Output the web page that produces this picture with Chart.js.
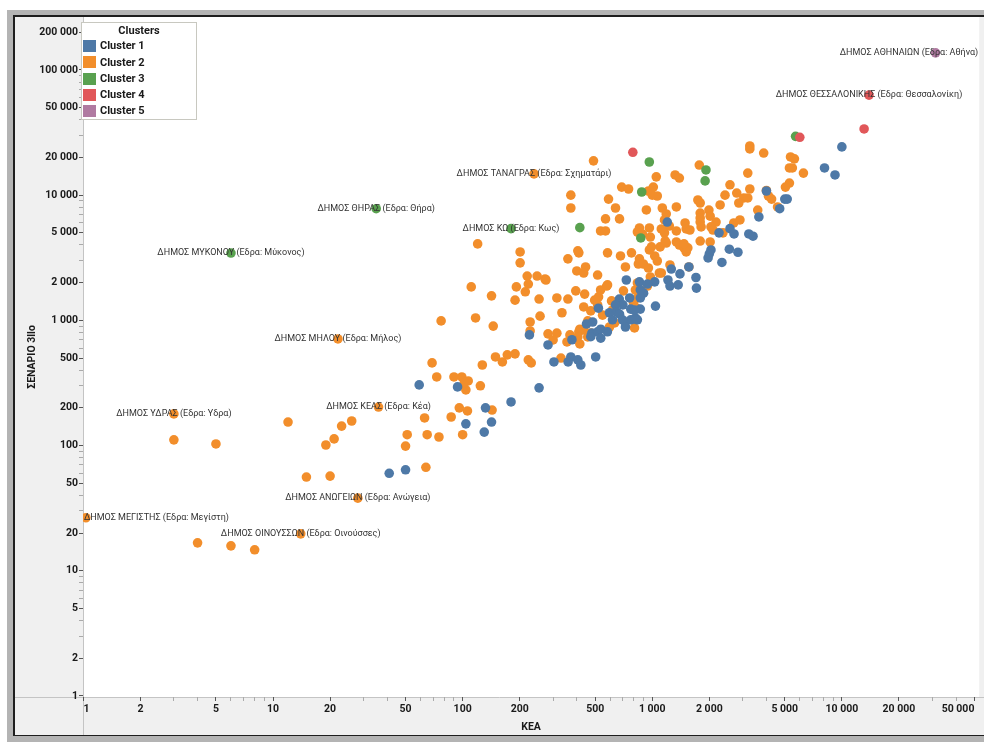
<!DOCTYPE html>
<html>
<head>
<meta charset="utf-8">
<script src="https://cdn.jsdelivr.net/npm/chart.js@4.4.1/dist/chart.umd.min.js"></script>
<style>
  html, body { margin: 0; padding: 0; background: #fff; }
  #wrap { width: 984px; height: 742px; }
</style>
</head>
<body>
<div id="wrap"><canvas id="clusterChart" width="984" height="742"></canvas></div>
<script>
// [KEA, ΣΕΝΑΡΙΟ 3llo] per municipality, labelled ones first
var cluster1 = [
  [10000, 24300], [8100, 16500], [9200, 14500], [4000, 10800], [5000, 9300], [5150, 9300], [4700, 7800],
  [3650, 6700], [1200, 6100], [2570, 5400], [2700, 4900], [2250, 5000], [3230, 4900], [3400, 4700],
  [2040, 3650], [2000, 3400], [1970, 3150], [2550, 3700], [2830, 3500], [2330, 2900], [1260, 2570],
  [1400, 2350], [1560, 2670], [1700, 2200], [1210, 2100], [1240, 1880], [1370, 1920], [1710, 1810],
  [1030, 2030], [856, 2030], [900, 1650], [865, 1510], [1040, 1300], [865, 1230], [835, 1010],
  [730, 2100], [670, 1480], [700, 1330], [640, 1330], [770, 1230], [520, 1250], [595, 1150],
  [650, 1170], [672, 1120], [617, 1010], [720, 970], [770, 1010], [450, 935], [485, 970], [480, 790],
  [515, 810], [535, 850], [580, 810], [225, 765], [282, 636], [377, 700], [372, 510], [405, 483],
  [420, 440], [360, 465], [303, 465], [503, 510], [535, 720], [474, 740], [697, 1010], [722, 885],
  [815, 1045], [806, 1210], [760, 1510], [865, 1750], [943, 1950], [59, 305], [94, 294], [253, 289],
  [180, 223], [132, 200], [104, 149], [142, 154], [130, 128], [41, 60], [50, 64]
];
var cluster2 = [
  [238, 14800], [22, 710], [36, 203], [3, 179], [28, 38], [1.03, 26.5], [14, 19.7],
  [3270, 24700], [3270, 23400], [3870, 21700], [1770, 17400], [5360, 20200], [5620, 19500], [5290, 16500],
  [5480, 16500], [6270, 15000], [3190, 15000], [1320, 14500], [1390, 13700], [1050, 14000], [2570, 12100],
  [5290, 12500], [5040, 11600], [2420, 10000], [2790, 10400], [3270, 11200], [4000, 10900], [4100, 9850],
  [4260, 9300], [3040, 9500], [3190, 9500], [2860, 8660], [1740, 9150], [1790, 8660], [2280, 8350],
  [1130, 7900], [1340, 8050], [4580, 8050], [3600, 7600], [1185, 7080], [1790, 7200], [1790, 6570],
  [1790, 6100], [1990, 7600], [2020, 6800], [1160, 6340], [1230, 5670], [1490, 6000], [1510, 5370],
  [1580, 5270], [2170, 6100], [2690, 6000], [2900, 6340], [1810, 5580], [2040, 5580], [2090, 5270],
  [2360, 5000], [1160, 5000], [1790, 4300], [2020, 4230], [1340, 4230], [1390, 4000], [1470, 3790],
  [1510, 3520], [1540, 3790], [1185, 4150], [1100, 3860], [1240, 2770], [1560, 2670], [1116, 2390],
  [490, 18800], [690, 11600], [750, 11200], [954, 10800], [1013, 11600], [1063, 9850], [372, 10000],
  [372, 7900], [588, 9300], [640, 7900], [931, 7620], [567, 6460], [672, 6460], [534, 5180], [567, 5180],
  [856, 5470], [887, 4900], [835, 5080], [1116, 5370], [1340, 5180], [120, 4080], [1170, 4310],
  [1470, 4080], [201, 3520], [201, 2880], [405, 3590], [410, 3460], [359, 3100], [581, 3460], [680, 3270],
  [777, 3460], [856, 3100], [845, 2820], [898, 2820], [954, 2620], [1030, 3270], [1063, 2980], [966, 3650],
  [990, 3860], [722, 2670], [445, 2670], [400, 2480], [435, 2390], [515, 2300], [219, 2260], [247, 2260],
  [272, 2140], [977, 2220], [1090, 2390], [835, 1990], [943, 1880], [111, 1850], [192, 1850], [222, 1950],
  [214, 1690], [575, 1880], [705, 1720], [142, 1570], [253, 1480], [189, 1450], [314, 1510], [359, 1480],
  [395, 1720], [440, 1620], [497, 1450], [521, 1540], [610, 1430], [796, 1380], [825, 1256], [435, 1280],
  [334, 1150], [474, 1190], [547, 1100], [806, 870], [77, 990], [145, 900], [282, 780], [314, 790],
  [435, 840], [415, 850], [368, 765], [457, 737], [1000, 10000], [966, 5470], [977, 4630], [117, 1045],
  [227, 970], [227, 823], [256, 1080], [275, 2100], [534, 1750], [581, 1920], [300, 697], [355, 672],
  [410, 808], [405, 737], [415, 648], [457, 990], [515, 1330], [330, 500], [474, 793], [595, 885],
  [633, 953], [617, 1210], [835, 1510], [815, 1750], [149, 510], [162, 465], [172, 530], [189, 540],
  [127, 440], [222, 483], [230, 457], [69, 457], [73, 353], [90, 353], [99, 353], [107, 328], [104, 278],
  [102, 317], [124, 300], [96, 200], [106, 189], [87, 169], [63, 166], [143, 192], [51, 122], [65, 122],
  [75, 117], [100, 122], [50, 99], [12, 154], [26, 157], [23, 143], [21, 113], [19, 101], [64, 67],
  [15, 56], [20, 57], [3, 111], [5, 103], [4, 16.7], [6, 15.8], [8, 14.7]
];
var cluster3 = [
  [35, 7800], [180, 5400], [6, 3450], [5700, 29500], [965, 18400], [1920, 15900], [1900, 13000],
  [880, 10600], [415, 5500], [870, 4550]
];
var cluster4 = [[13900, 63000], [13100, 33800], [6000, 29000], [790, 22000]];
var cluster5 = [[31200, 137000]];

var cluster2Names = [
  'ΔΗΜΟΣ ΤΑΝΑΓΡΑΣ (Εδρα: Σχηματάρι)', 'ΔΗΜΟΣ ΜΗΛΟΥ (Εδρα: Μήλος)', 'ΔΗΜΟΣ ΚΕΑΣ (Εδρα: Κέα)',
  'ΔΗΜΟΣ ΥΔΡΑΣ (Εδρα: Υδρα)', 'ΔΗΜΟΣ ΑΝΩΓΕΙΩΝ (Εδρα: Ανώγεια)', 'ΔΗΜΟΣ ΜΕΓΙΣΤΗΣ (Εδρα: Μεγίστη)',
  'ΔΗΜΟΣ ΟΙΝΟΥΣΣΩΝ (Εδρα: Οινούσσες)'
];
var cluster3Names = ['ΔΗΜΟΣ ΘΗΡΑΣ (Εδρα: Θήρα)', 'ΔΗΜΟΣ ΚΩ (Εδρα: Κως)', 'ΔΗΜΟΣ ΜΥΚΟΝΟΥ (Εδρα: Μύκονος)'];
var cluster4Names = ['ΔΗΜΟΣ ΘΕΣΣΑΛΟΝΙΚΗΣ (Εδρα: Θεσσαλονίκη)'];
var cluster5Names = ['ΔΗΜΟΣ ΑΘΗΝΑΙΩΝ (Εδρα: Αθήνα)'];

var clusterLabels = ['Cluster 1', 'Cluster 2', 'Cluster 3', 'Cluster 4', 'Cluster 5'];
var clusterColors = ['#4e79a7', '#f28e2b', '#59a14f', '#e15759', '#b07aa1'];

var xTickLabels = [1, 2, 5, 10, 20, 50, 100, 200, 500, 1000, 2000, 5000, 10000, 20000, 50000];
var yTickLabels = [1, 2, 5, 10, 20, 50, 100, 200, 500, 1000, 2000, 5000, 10000, 20000, 50000, 100000, 200000];

var FONT = 'Roboto, "Liberation Sans", sans-serif';

function fmt(v) {
  return String(v).replace(/\B(?=(\d{3})+(?!\d))/g, ' ');
}

// every 1..9 x 10^n step, labels only on the 1-2-5 ones
function logTicks(max) {
  var out = [];
  for (var p = 1; p <= max; p *= 10) {
    for (var m = 1; m < 10; m++) {
      if (m * p <= max) out.push(m * p);
    }
  }
  return out;
}

function toPoints(list) {
  return list.map(function (d) { return { x: d[0], y: d[1] }; });
}

var framePlugin = {
  id: 'frame',
  beforeDraw: function (chart) {
    var ctx = chart.ctx, a = chart.chartArea;
    ctx.save();
    ctx.fillStyle = '#fff';
    ctx.fillRect(0, 0, 984, 742);
    ctx.fillStyle = '#b4b4b4';
    ctx.fillRect(7, 10, 977, 732);
    ctx.fillStyle = '#1e1e1e';
    ctx.fillRect(13, 15, 971, 721);
    ctx.fillStyle = '#f0f0f0';
    ctx.fillRect(15, 17, 969, 718);
    ctx.fillStyle = '#fff';
    ctx.fillRect(a.left, a.top, a.right - a.left, a.bottom - a.top);
    ctx.strokeStyle = '#c4c4c4';
    ctx.lineWidth = 1;
    ctx.beginPath();
    ctx.moveTo(a.left + 0.5, a.top);
    ctx.lineTo(a.left + 0.5, 735);
    ctx.moveTo(15, a.bottom + 0.5);
    ctx.lineTo(984, a.bottom + 0.5);
    ctx.stroke();
    ctx.restore();
  }
};

var pointLabelPlugin = {
  id: 'pointLabels',
  afterDatasetsDraw: function (chart) {
    var ctx = chart.ctx, a = chart.chartArea;
    ctx.save();
    ctx.font = '9px ' + FONT;
    ctx.fillStyle = '#333';
    ctx.textBaseline = 'middle';
    chart.data.datasets.forEach(function (ds, di) {
      var meta = chart.getDatasetMeta(di);
      (ds.names || []).forEach(function (name, i) {
        var pt = meta.data[i];
        var w = ctx.measureText(name).width;
        var left = Math.min(Math.max(pt.x - w / 2, a.left + 1), a.right - w - 1);
        ctx.fillText(name, left, pt.y);
      });
    });
    ctx.restore();
  }
};

var legendBoxPlugin = {
  id: 'legendBox',
  afterDraw: function (chart) {
    var ctx = chart.ctx;
    ctx.save();
    ctx.fillStyle = '#fff';
    ctx.fillRect(81, 22, 116, 98);
    ctx.strokeStyle = '#c8c8c0';
    ctx.lineWidth = 1;
    ctx.strokeRect(81.5, 22.5, 115, 97);
    ctx.fillStyle = '#1a1a1a';
    ctx.font = 'bold 11px ' + FONT;
    ctx.textAlign = 'center';
    ctx.textBaseline = 'middle';
    ctx.fillText('Clusters', 139, 31);
    ctx.textAlign = 'left';
    chart.data.datasets.forEach(function (ds, i) {
      var cy = 46 + i * 16.3;
      ctx.fillStyle = ds.backgroundColor;
      ctx.fillRect(83, Math.round(cy - 6), 13, 12);
      ctx.fillStyle = '#1a1a1a';
      ctx.fillText(ds.label, 100, cy + 0.5);
    });
    ctx.restore();
  }
};

var clusterData = [cluster1, cluster2, cluster3, cluster4, cluster5];
var clusterNames = [[], cluster2Names, cluster3Names, cluster4Names, cluster5Names];
var drawOrder = [3, 4, 2, 1, 0];

var ctxClusters = document.getElementById('clusterChart').getContext('2d');

var clusterChart = new Chart(ctxClusters, {
  type: 'scatter',
  data: {
    datasets: clusterData.map(function (list, i) {
      return {
        label: clusterLabels[i],
        data: toPoints(list),
        names: clusterNames[i],
        backgroundColor: clusterColors[i],
        borderWidth: 0,
        pointRadius: 4.8,
        pointHoverRadius: 4.8,
        order: drawOrder[i]
      };
    })
  },
  options: {
    responsive: false,
    animation: false,
    devicePixelRatio: 1,
    layout: { padding: { top: 17, left: 0, right: 0, bottom: 0 } },
    plugins: {
      legend: { display: false },
      tooltip: { enabled: false }
    },
    scales: {
      x: {
        type: 'logarithmic',
        min: 0.995,
        max: 53000,
        afterFit: function (s) { s.height = 45; },
        afterBuildTicks: function (s) {
          s.ticks = logTicks(53000).map(function (v) { return { value: v }; });
        },
        border: { display: false },
        grid: {
          drawOnChartArea: false,
          tickLength: 4,
          tickColor: function (c) {
            return c.tick && xTickLabels.indexOf(c.tick.value) >= 0 ? '#555' : '#aaa';
          }
        },
        ticks: {
          autoSkip: false,
          maxRotation: 0,
          align: 'inner',
          padding: 2,
          color: '#1a1a1a',
          font: { family: FONT, weight: 'bold', size: 10.5 },
          callback: function (v) { return xTickLabels.indexOf(v) >= 0 ? fmt(v) : ''; }
        },
        title: {
          display: true,
          text: 'ΚΕΑ',
          color: '#1a1a1a',
          font: { family: FONT, weight: 'bold', size: 10.5 },
          padding: { top: 0, bottom: 8.7 }
        }
      },
      y: {
        type: 'logarithmic',
        min: 0.98,
        max: 265000,
        afterFit: function (s) { s.width = 83; },
        afterBuildTicks: function (s) {
          s.ticks = logTicks(265000).map(function (v) { return { value: v }; });
        },
        border: { display: false },
        grid: {
          drawOnChartArea: false,
          tickLength: 4,
          tickColor: function (c) {
            return c.tick && yTickLabels.indexOf(c.tick.value) >= 0 ? '#555' : '#aaa';
          }
        },
        ticks: {
          autoSkip: false,
          padding: 1,
          color: '#1a1a1a',
          font: { family: FONT, weight: 'bold', size: 10.5 },
          callback: function (v) { return yTickLabels.indexOf(v) >= 0 ? fmt(v) : ''; }
        },
        title: {
          display: true,
          text: 'ΣΕΝΑΡΙΟ 3llo',
          color: '#1a1a1a',
          font: { family: FONT, weight: 'bold', size: 10.5 },
          padding: { top: 26, bottom: 0 }
        }
      }
    }
  },
  plugins: [framePlugin, pointLabelPlugin, legendBoxPlugin]
});
</script>
</body>
</html>
